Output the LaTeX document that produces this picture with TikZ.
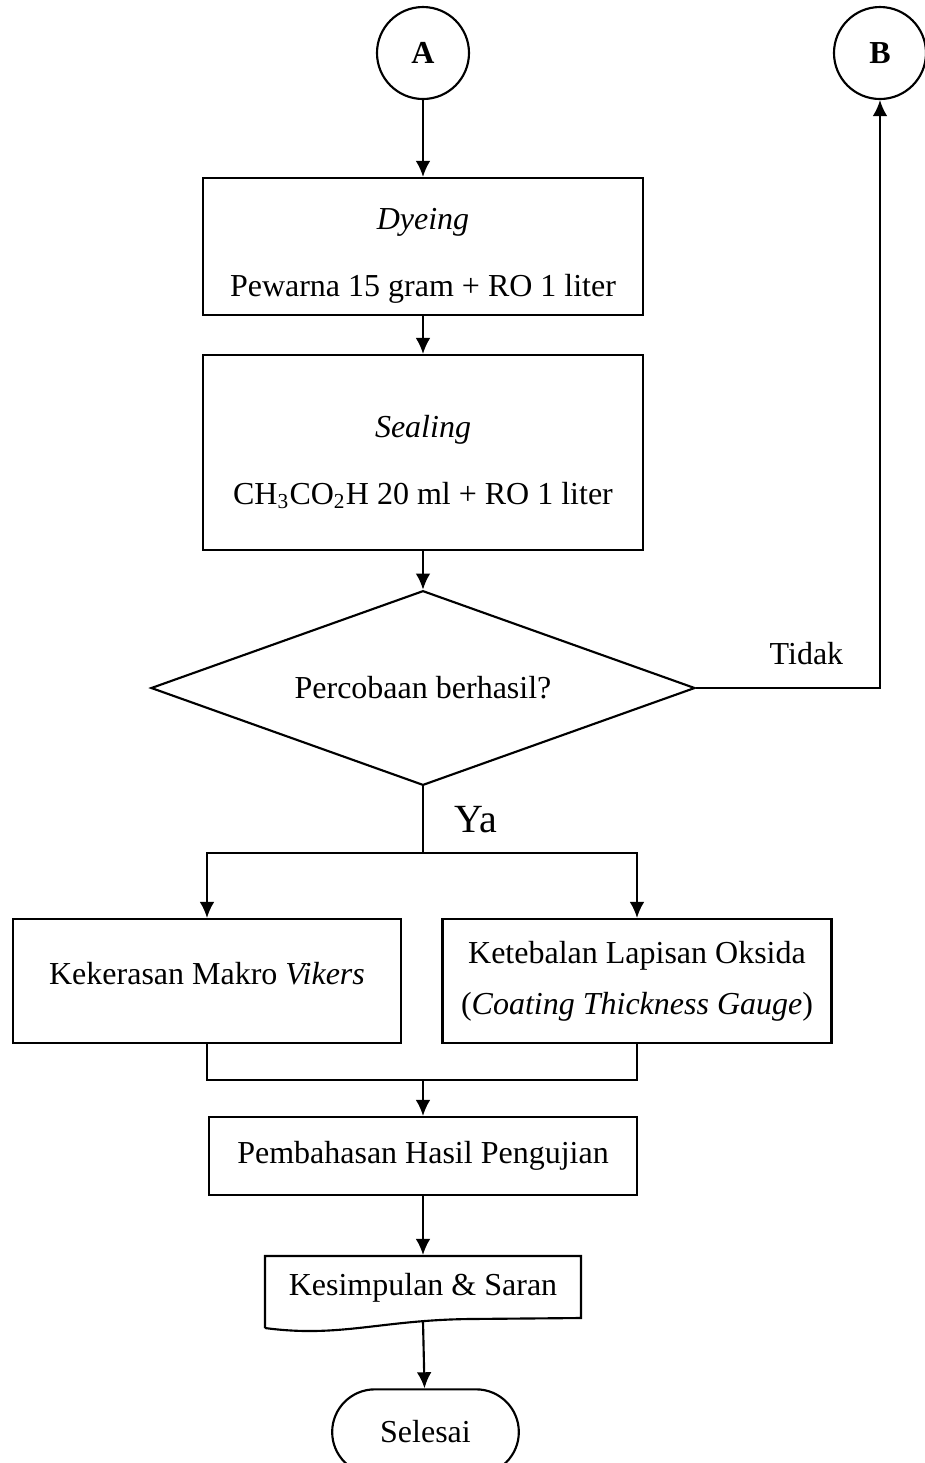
\documentclass[tikz,border=0pt]{standalone}
\usepackage{fontspec}
\setmainfont{Liberation Serif}
\usetikzlibrary{shapes.geometric,arrows.meta}

\begin{document}
\begin{tikzpicture}[x=0.375pt,y=-0.375pt,>={Latex[length=6pt,width=5.5pt]},line width=0.8pt,
		font=\fontsize{12}{14}\selectfont,
		proses/.style={draw,rectangle,align=center,inner sep=2pt},
		lingkar/.style={draw,circle,minimum size=34.5pt,inner sep=0pt,font=\fontsize{12}{14}\selectfont\bfseries},
		keputusan/.style={draw,diamond,aspect=2.8,minimum width=204pt,minimum height=73pt,inner sep=0pt},
		akhir/.style={draw,rectangle,rounded corners=16pt,minimum width=70pt,minimum height=32pt}]
					\useasboundingbox (0,0) rectangle (925,1463);

					\node[lingkar] (A) at (423,53) {A};
					\node[lingkar] (B) at (880,53) {B};

					\node[proses,minimum width=165pt,minimum height=51.4pt,text height=40pt] (dyeing) at (423,246.5)
						{\textit{Dyeing}\\[11pt]Pewarna 15 gram + RO 1 liter};
					\node[proses,minimum width=165pt,minimum height=73.1pt,text height=40.5pt] (sealing) at (423,452.5)
						{\textit{Sealing}\\[11pt]CH\textsubscript{3}CO\textsubscript{2}H 20 ml + RO 1 liter};
					\node[keputusan] (cek) at (423,688) {Percobaan berhasil?};

					\coordinate (cabang) at (423,853);
					\node[proses,minimum width=145.5pt,minimum height=46.5pt,text depth=6pt] (makro) at (207,981)
						{Kekerasan Makro \textit{Vikers}};
					\node[proses,minimum width=145.9pt,minimum height=46.5pt] (oksida) at (637,981)
						{Ketebalan Lapisan Oksida\\[5pt](\textit{Coating Thickness Gauge})};
					\coordinate (gabung) at (423,1080);

					\node[proses,minimum width=160.5pt,minimum height=29.25pt] (bahas) at (423,1156)
						{Pembahasan Hasil Pengujian};
					\node[minimum width=118.5pt,minimum height=24pt,inner sep=0pt] (simpul) at (423,1288)
						{Kesimpulan \& Saran};
					\draw (265,1328) -- (265,1256) -- (581,1256) -- (581,1318) -- (470,1319)
						.. controls (380,1320) and (340,1338) .. (265,1328);
					\node[akhir] (selesai) at (425.5,1432) {Selesai};

					\draw[->] (A) -- (dyeing);
					\draw[->] (dyeing) -- (sealing);
					\draw[->] (sealing) -- (cek);
					\draw[->] (cek.east) -| node[pos=0.3,above=5pt] {Tidak} (B);
					\draw (cek.south) -- node[right=8pt,font=\fontsize{15}{17}\selectfont] {Ya} (cabang);
					\draw[->] (cabang) -| (makro);
					\draw[->] (cabang) -| (oksida);
					\draw (makro.south) |- (gabung) -| (oksida.south);
					\draw[->] (gabung) -- (bahas);
					\draw[->] (bahas) -- (simpul);
					\draw[->] (simpul.south) -- (selesai);
				\end{tikzpicture}
\end{document}
